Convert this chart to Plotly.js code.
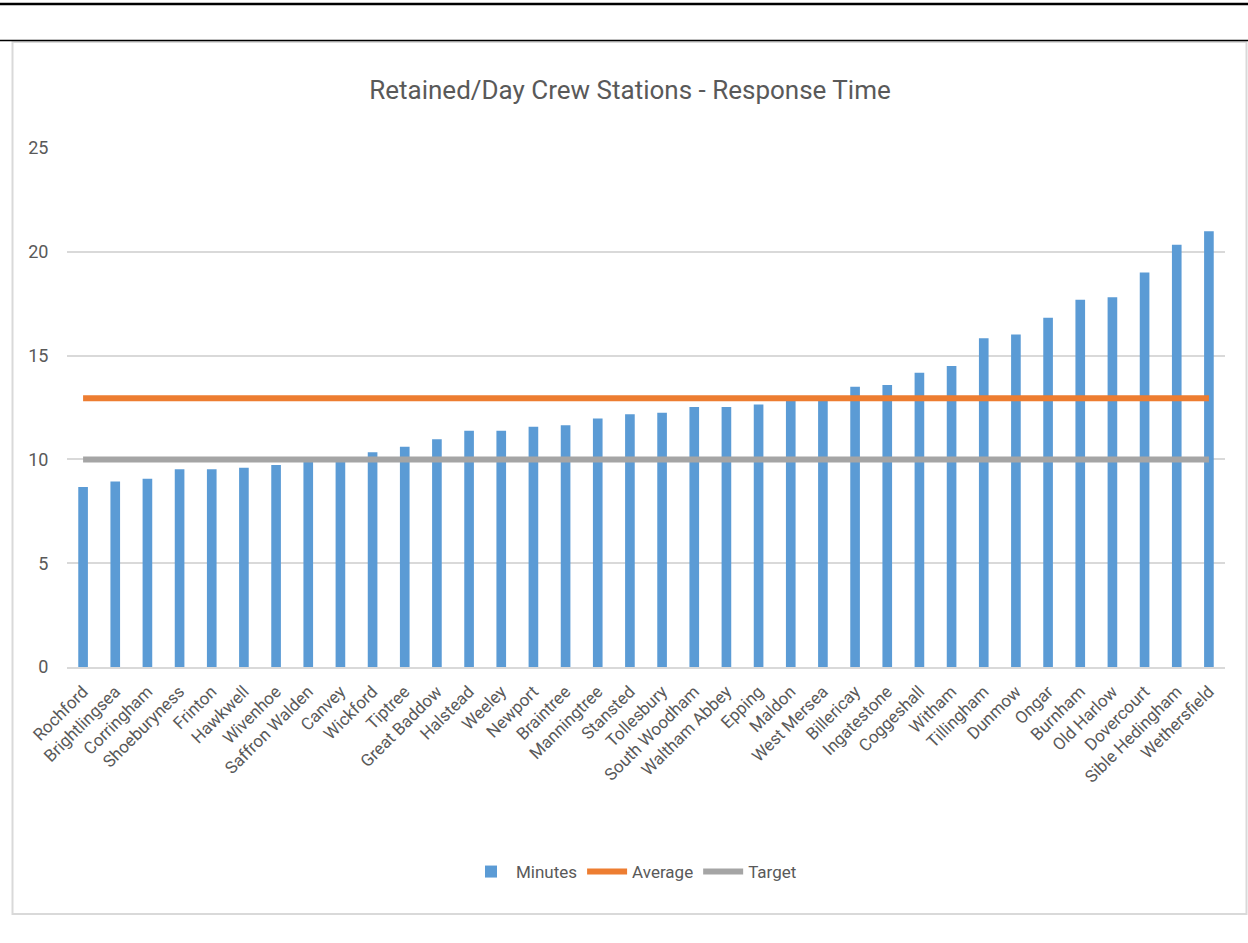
<!DOCTYPE html>
<html>
<head>
<meta charset="utf-8">
<script src="https://cdn.plot.ly/plotly-3.0.1.min.js"></script>
<style>
  html, body { margin: 0; padding: 0; background: #ffffff; }
  #chart { width: 1248px; height: 943px; }
</style>
</head>
<body>
<div id="chart"></div>
<script>
// ---- Data ----
const stations = [
  "Rochford", "Brightlingsea", "Corringham", "Shoeburyness", "Frinton",
  "Hawkwell", "Wivenhoe", "Saffron Walden", "Canvey", "Wickford",
  "Tiptree", "Great Baddow", "Halstead", "Weeley", "Newport",
  "Braintree", "Manningtree", "Stansted", "Tollesbury", "South Woodham",
  "Waltham Abbey", "Epping", "Maldon", "West Mersea", "Billericay",
  "Ingatestone", "Coggeshall", "Witham", "Tillingham", "Dunmow",
  "Ongar", "Burnham", "Old Harlow", "Dovercourt", "Sible Hedingham",
  "Wethersfield"
];
const minutes = [
  8.67, 8.94, 9.07, 9.53, 9.53,
  9.60, 9.73, 9.95, 9.98, 10.35,
  10.61, 10.97, 11.38, 11.38, 11.57,
  11.65, 11.97, 12.18, 12.25, 12.52,
  12.52, 12.65, 12.88, 12.9, 13.50,
  13.58, 14.17, 14.50, 15.83, 16.02,
  16.82, 17.69, 17.81, 19.00, 20.34,
  20.99
];
const averageValue = 12.95;
const targetValue = 10;
const yTicks = [0, 5, 10, 15, 20, 25];

// ---- Styling ----
const W = 1248, H = 943;
const plotL = 67, plotR = 1225, plotT = 148, plotB = 667;
const px2x = p => (p - plotL) / (plotR - plotL);
const px2y = p => (plotB - p) / (plotB - plotT);
const FONT = "Roboto, Open Sans, sans-serif";
const textGray = "#595959";

const traces = [
  {
    type: "bar", name: "Minutes", x: stations, y: minutes,
    marker: { color: "#5B9BD5" }, width: 0.3
  },
  {
    type: "scatter", mode: "lines", name: "Average", x: stations,
    y: stations.map(() => averageValue),
    line: { color: "#ED7D31", width: 6 }
  },
  {
    type: "scatter", mode: "lines", name: "Target", x: stations,
    y: stations.map(() => targetValue),
    line: { color: "#A5A5A5", width: 6 }
  }
];

const layout = {
  width: W, height: H,
  margin: { l: plotL, r: W - plotR, t: plotT, b: H - plotB, pad: 0 },
  paper_bgcolor: "#ffffff", plot_bgcolor: "#ffffff",
  font: { family: FONT, color: textGray, size: 17 },
  title: {
    text: "Retained/Day Crew Stations - Response Time",
    font: { family: FONT, size: 26, color: textGray },
    x: 630 / W, xanchor: "center", xref: "container",
    y: 1 - 90 / H, yanchor: "middle", yref: "container"
  },
  showlegend: true,
  legend: {
    orientation: "h", x: 634 / W, xanchor: "center", xref: "container",
    y: 1 - 872 / H, yanchor: "middle", yref: "container",
    font: { family: FONT, size: 17, color: textGray },
    traceorder: "normal", itemwidth: 40
  },
  bargap: 0.7,
  xaxis: {
    type: "category", range: [-0.5, stations.length - 0.5],
    tickangle: -45, ticks: "outside", ticklen: 6, tickcolor: "rgba(0,0,0,0)",
    showgrid: false, showline: true, linecolor: "#D9D9D9", linewidth: 2,
    tickfont: { family: FONT, size: 17, color: textGray },
    fixedrange: true
  },
  yaxis: {
    range: [0, 25], tickvals: yTicks, ticktext: yTicks.map(String),
    showgrid: true, gridcolor: "#D9D9D9", gridwidth: 2,
    zeroline: false, showline: false,
    ticks: "outside", ticklen: 14, tickcolor: "rgba(0,0,0,0)",
    tickfont: { family: FONT, size: 18, color: textGray },
    fixedrange: true
  },
  shapes: [
    { type: "rect", xref: "paper", yref: "paper",
      x0: px2x(12.5), x1: px2x(1246.5), y0: px2y(914), y1: px2y(42),
      line: { color: "#D9D9D9", width: 2 }, fillcolor: "rgba(0,0,0,0)", layer: "below" },
    { type: "line", xref: "paper", yref: "paper",
      x0: px2x(0), x1: px2x(1248), y0: px2y(4), y1: px2y(4),
      line: { color: "#000000", width: 2.5 } },
    { type: "line", xref: "paper", yref: "paper",
      x0: px2x(0), x1: px2x(1248), y0: px2y(40.5), y1: px2y(40.5),
      line: { color: "#000000", width: 1.5 } }
  ]
};

Plotly.newPlot("chart", traces, layout, { displayModeBar: false, staticPlot: true });
</script>
</body>
</html>
